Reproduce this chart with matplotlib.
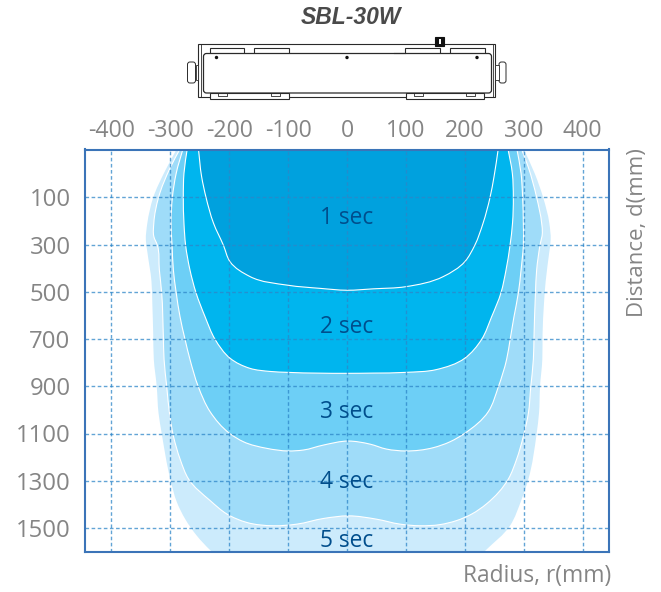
import matplotlib
matplotlib.use("Agg")
import matplotlib.pyplot as plt
from matplotlib.path import Path
from matplotlib.patches import PathPatch, Rectangle, FancyBboxPatch, Circle
import numpy as np

plt.rcParams["axes.unicode_minus"] = False

# ---- data ----
x_ticks = [-400, -300, -200, -100, 0, 100, 200, 300, 400]
y_ticks = [100, 300, 500, 700, 900, 1100, 1300, 1500]

r5 = [-288, -309, -329, -339, -341.5, -339, -332, -330.5, -329, -328, -323, -320, -314.6, -300, -288.7, -274.6, -254.7, -232, -215,
      220, 235.4, 276.7, 296.6, 308, 322, 326, 327.7, 331.6, 332, 334.4, 337.3, 343.5, 345.8, 343.5, 333, 319, 299]
d5 = [-110, -12, 100, 209, 280, 330, 455, 550, 680, 786, 902, 1013, 1099, 1293, 1392, 1463, 1534, 1595, 1633,
      1633, 1595, 1491, 1378, 1293, 1099, 1013, 902, 786, 680, 550, 455, 330, 280, 209, 100, 0, -110]

r4 = [-282.6, -300, -320, -328, -328, -322, -318.6, -314.7, -311.8, -310.6, -306, -301.4, -294.6, -283.3, -269, -232, -204,
      -170, -124.6, -85, -39.7, 2.7, 50, 90, 124, 158, 186, 212, 237, 273.9, 288, 299.4, 308, 312, 316.4, 317.5, 320,
      322, 327.7, 331.7, 330.5, 322, 308, 295.5]
d4 = [-110, -27, 100, 209, 265, 302, 407, 503, 690, 786, 902, 1013, 1112, 1209, 1293, 1385, 1441,
      1477, 1491, 1484, 1460, 1449, 1463, 1484, 1491, 1486, 1469, 1441, 1398, 1293, 1209, 1112, 1013, 902, 786, 690, 503,
      407, 302, 250, 209, 100, -27, -110]

r3 = [-278, -290, -296.5, -298.7, -297, -294.8, -290, -283.5, -275, -266.6, -252.4, -232.6, -199.6, -175.8,
      -136, -99.6, -74, -40, 2, 39, 67, 99.6, 146.6, 174.9, 200, 240, 257, 271, 277, 283.5, 291, 295.5, 299.4,
      299.4, 298.2, 295.5, 288]
d3 = [-110, -2.5, 100, 209, 302, 407, 503, 605, 701, 786, 902, 1007, 1099, 1135,
      1163, 1174, 1170, 1149, 1132, 1145, 1166, 1174, 1160, 1135, 1099, 1007, 902, 786, 701, 605, 503, 407, 302,
      209, 100, -2.5, -110]

r2 = [-271, -276.8, -277.9, -276.8, -274, -266.6, -256.4, -241, -224, -198.6, -164.7, -130.7, -99.6, 0,
      44.7, 99.6, 152, 200, 228.6, 245.6, 261.5, 270, 276.8, 281, 282.4, 280.7, 273]
d2 = [-110, -2.5, 100, 209, 302, 407, 503, 605, 701, 781, 824, 837, 841, 845,
      844, 841, 829, 781, 701, 605, 503, 407, 302, 209, 100, -2.5, -110]

r1 = [-252.4, -246.8, -239.3, -226.6, -209.9, -198.6, -164.7, -99.6, -45.7, 0,
      44.7, 99.6, 163.5, 200, 217, 231, 242.8, 249.6, 257]
d1 = [-110, 12, 100, 209, 302, 372, 435, 472, 485, 493,
      487, 478, 435, 372, 302, 209, 100, 12, -110]

zone_labels = ["1 sec", "2 sec", "3 sec", "4 sec", "5 sec"]
zone_label_d = [188, 650, 1010, 1307, 1557]

zones = [(r5, d5, "#CCEBFC", "none"), (r4, d4, "#9FDCF9", "white"), (r3, d3, "#6DCFF6", "white"),
         (r2, d2, "#00B5EE", "white"), (r1, d1, "#00A1DE", "white")]

GREY = "#858585"
FONT = "Open Sans"
SX, SY = 0.589, 0.236   # pixels per mm


def smooth_path(rs, ds):
    """Closed outline: Bezier segments through the read points, tangents taken at screen scale."""
    p = np.column_stack([rs, ds]).astype(float) * [SX, SY]
    n = len(p)
    tang = np.zeros_like(p)
    for i in range(n):
        a = p[max(i - 1, 0)]; b = p[i]; c = p[min(i + 1, n - 1)]
        d0 = max(np.linalg.norm(b - a), 1e-6); d1 = max(np.linalg.norm(c - b), 1e-6)
        v = (b - a) / d0 * d1 + (c - b) / d1 * d0
        tang[i] = v / max(np.linalg.norm(v), 1e-6)
    verts = [p[0]]
    codes = [Path.MOVETO]
    for i in range(n - 1):
        seg = np.linalg.norm(p[i + 1] - p[i])
        verts += [p[i] + tang[i] * seg / 3, p[i + 1] - tang[i + 1] * seg / 3, p[i + 1]]
        codes += [Path.CURVE4] * 3
    verts.append(p[0]); codes.append(Path.CLOSEPOLY)
    return Path(np.array(verts) / [SX, SY], codes)


W, H = 661, 592
fig = plt.figure(figsize=(W / 100, H / 100), dpi=100)
L, R, T, B = 84.5, 609, 149.5, 551.5
ax = fig.add_axes([L / W, 1 - B / H, (R - L) / W, (B - T) / H])
ax.set_xlim((L - 347) / SX, (R - 347) / SX)
ax.set_ylim(100 + (B - 197.5) / SY, 100 + (T - 197.5) / SY)

for rs, ds, col, edge in zones:
    ax.add_patch(PathPatch(smooth_path(rs, ds), facecolor=col, edgecolor=edge,
                           lw=0.8 if edge != "none" else 0, zorder=2))

ax.set_xticks(x_ticks)
ax.set_yticks(y_ticks)
ax.xaxis.tick_top()
ax.tick_params(axis="x", length=0, labelcolor=GREY, labelsize=16.7, pad=5)
ax.tick_params(axis="y", length=0, labelcolor=GREY, labelsize=17.2, pad=10)
for t in ax.get_xticklabels() + ax.get_yticklabels():
    t.set_fontfamily(FONT)
ax.grid(True, color="#2E86C8", lw=1.0, alpha=0.75, linestyle=(0, (2.6, 1.8)), zorder=3)
ax.set_axisbelow(False)
for s in ax.spines.values():
    s.set_color("#3B74B8")
    s.set_linewidth(1.5)
    s.set_zorder(5)

for lab, d in zip(zone_labels, zone_label_d):
    ax.text(0, d, lab, ha="center", va="center", color="#004E8C", fontsize=16.4,
            family=FONT, zorder=6)

# overlay in pixel coordinates: titles and the fixture drawing
ov = fig.add_axes([0, 0, 1, 1], facecolor="none")
ov.set_xlim(0, W); ov.set_ylim(H, 0); ov.axis("off")
ov.text(611, 576, "Radius, r(mm)", ha="right", va="center", color=GREY, fontsize=16.4, family=FONT)
ov.text(638, 233, "Distance, d(mm)", ha="center", va="center", rotation=90, color=GREY, fontsize=16, family=FONT)
ov.text(351, 18, "SBL-30W", ha="center", va="center", color="#4A4A4A", fontsize=16.5,
        fontweight="bold", fontstyle="italic", family="Liberation Sans")

LC = "#2A2A2A"


def box(x0, y0, x1, y1, **kw):
    kw.setdefault("lw", 0.8)
    kw.setdefault("ec", LC)
    kw.setdefault("fc", "white")
    ov.add_patch(Rectangle((x0, y0), x1 - x0, y1 - y0, **kw))


box(198.3, 43.5, 495, 96.5)
ov.plot([201, 201], [43.5, 96.5], color=LC, lw=0.6)
ov.plot([492.5, 492.5], [43.5, 96.5], color=LC, lw=0.6)
# knobs
for x0, x1 in [(187.5, 195.5), (499, 506)]:
    ov.add_patch(FancyBboxPatch((x0, 62), x1 - x0, 21, boxstyle="round,pad=0,rounding_size=2.5",
                                fc="white", ec=LC, lw=0.7))
box(195.5, 65, 198.3, 80, lw=0.6)
box(495, 65, 499, 80, lw=0.6)
# top clamps
for x0, x1 in [(209.5, 244), (254, 289), (404.5, 439.5), (450, 485)]:
    box(x0, 47.5, x1, 53.5)
ov.plot([394, 404.5], [52.5, 52.5], color=LC, lw=0.8)
# bottom clamps
for x0, x1 in [(210, 288.5), (405.5, 484)]:
    box(x0, 93, x1, 99)
    ov.plot([x0 + 8, x0 + 8, x0 + 17, x0 + 17], [93, 96, 96, 93], color=LC, lw=0.6)
    ov.plot([x1 - 18, x1 - 18, x1 - 9, x1 - 9], [93, 96, 96, 93], color=LC, lw=0.6)
# body
ov.add_patch(FancyBboxPatch((203.5, 53.5), 288, 39.5, boxstyle="round,pad=0,rounding_size=3",
                            fc="white", ec=LC, lw=0.9))
for x in [216.5, 347, 477]:
    ov.add_patch(Circle((x, 57.5), 1.7, fc="#111111", ec="none"))
box(435, 37, 444, 46, fc="#111111", ec="#111111")
box(438.5, 39, 440.5, 44, fc="white", ec="white", lw=0)

fig.savefig("out.png", dpi=100)
